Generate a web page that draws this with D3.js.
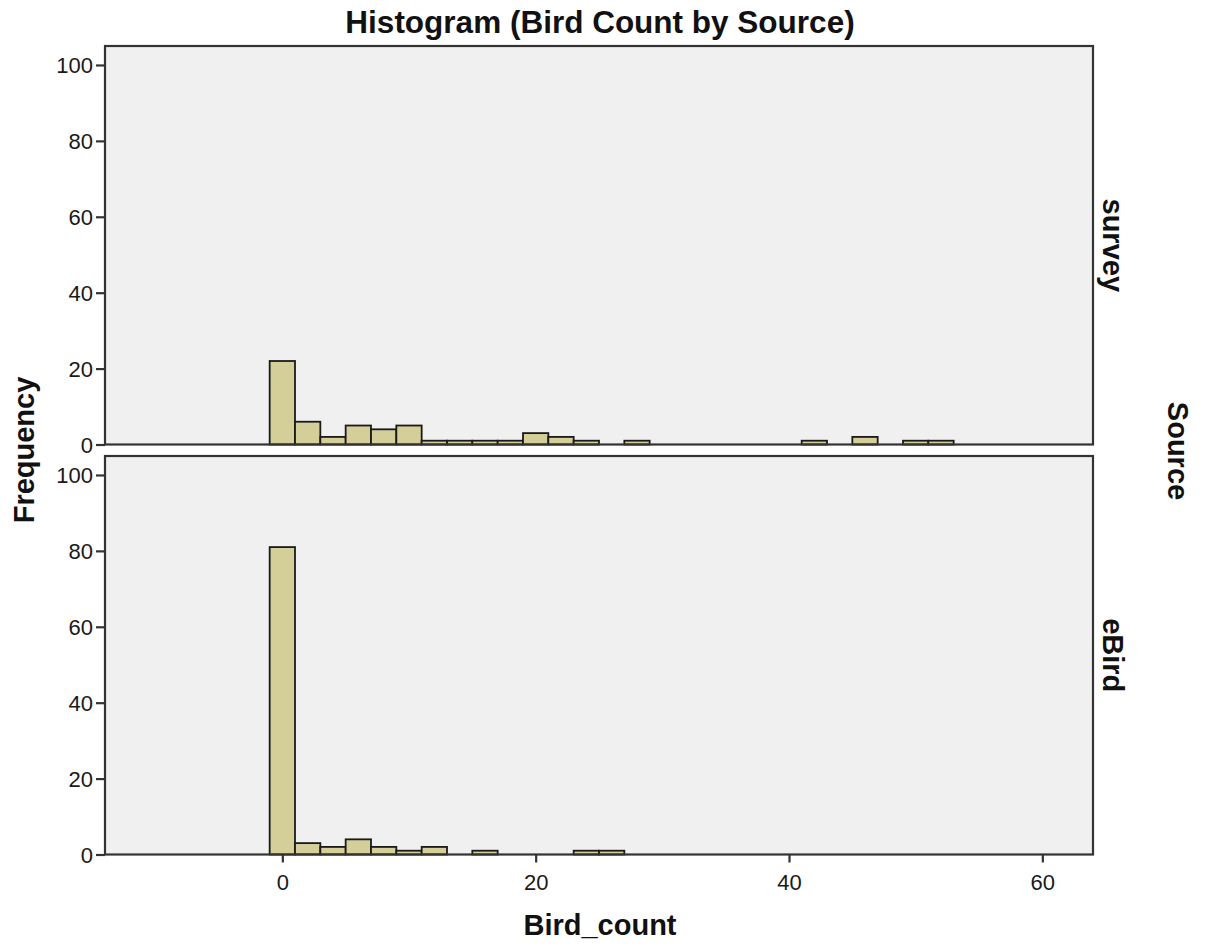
<!DOCTYPE html>
<html>
<head>
<meta charset="utf-8">
<script src="https://cdn.jsdelivr.net/npm/d3@7"></script>
<style>
  body { margin: 0; background: #fff; }
  svg { display: block; font-family: "Liberation Sans", Arial, sans-serif; }
</style>
</head>
<body>
<svg id="chart" width="1209" height="950"></svg>
<script>
// Bin centers (bin width 2)
const binWidth = 2;
const surveyBins = [0, 2, 4, 6, 8, 10, 12, 14, 16, 18, 20, 22, 24, 26, 28, 30, 32, 34, 36, 38, 40, 42, 44, 46, 48, 50, 52];
const surveyCounts = [22, 6, 2, 5, 4, 5, 1, 1, 1, 1, 3, 2, 1, 0, 1, 0, 0, 0, 0, 0, 0, 1, 0, 2, 0, 1, 1];
const eBirdBins = [0, 2, 4, 6, 8, 10, 12, 14, 16, 18, 20, 22, 24, 26];
const eBirdCounts = [81, 3, 2, 4, 2, 1, 2, 0, 1, 0, 0, 0, 1, 1];
const panelNames = ["survey", "eBird"];
const xTicks = [0, 20, 40, 60];
const yTicks = [0, 20, 40, 60, 80, 100];

const panels = [
  { name: panelNames[0], bins: surveyBins, counts: surveyCounts },
  { name: panelNames[1], bins: eBirdBins, counts: eBirdCounts }
];

const svg = d3.select("#chart");
const left = 105, right = 1093;
const panelTops = [46, 456];
const panelH = 398.5;

const x = d3.scaleLinear().domain([-14, 64]).range([left, right]);

const fill = "#d4cf98";
const bg = "#f0f0f0";
const frame = "#333";
const font = "'Liberation Sans', Arial, sans-serif";

svg.append("text")
  .attr("x", 600).attr("y", 33)
  .attr("text-anchor", "middle")
  .attr("font-size", 31.5).attr("font-weight", "bold")
  .attr("fill", "#111")
  .text("Histogram (Bird Count by Source)");

panels.forEach((p, i) => {
  const top = panelTops[i];
  const y = d3.scaleLinear().domain([0, 105]).range([top + panelH, top]);
  const g = svg.append("g");

  g.append("rect")
    .attr("x", left).attr("y", top)
    .attr("width", right - left).attr("height", panelH)
    .attr("fill", bg);

  const data = p.bins.map((b, j) => ({ c: b, n: p.counts[j] })).filter(d => d.n > 0);
  g.selectAll("rect.bar").data(data).enter().append("rect")
    .attr("class", "bar")
    .attr("x", d => x(d.c - binWidth / 2))
    .attr("width", d => x(d.c + binWidth / 2) - x(d.c - binWidth / 2))
    .attr("y", d => y(d.n))
    .attr("height", d => y(0) - y(d.n))
    .attr("fill", fill)
    .attr("stroke", "#1a1a1a")
    .attr("stroke-width", 1.8);

  g.append("rect")
    .attr("x", left).attr("y", top)
    .attr("width", right - left).attr("height", panelH)
    .attr("fill", "none")
    .attr("stroke", frame).attr("stroke-width", 2.2);

  const yAxis = d3.axisLeft(y).tickValues(yTicks).tickSize(9).tickPadding(3);
  const ya = g.append("g").attr("transform", `translate(${left},0)`).call(yAxis);
  ya.select(".domain").remove();
  ya.selectAll(".tick line").attr("stroke", frame).attr("stroke-width", 2.2);
  ya.selectAll(".tick text").attr("font-size", 22).attr("fill", "#1a1a1a")
    .attr("font-family", font).attr("dy", "0.36em");

  if (i === panels.length - 1) {
    const xAxis = d3.axisBottom(x).tickValues(xTicks).tickSize(8).tickPadding(12);
    const xa = g.append("g").attr("transform", `translate(0,${top + panelH})`).call(xAxis);
    xa.select(".domain").remove();
    xa.selectAll(".tick line").attr("stroke", frame).attr("stroke-width", 2.2);
    xa.selectAll(".tick text").attr("font-size", 22).attr("fill", "#1a1a1a")
      .attr("font-family", font);
  }

  svg.append("text")
    .attr("transform", `translate(1103,${top + panelH / 2}) rotate(90)`)
    .attr("text-anchor", "middle")
    .attr("font-size", 29).attr("font-weight", "bold").attr("fill", "#111")
    .text(p.name);
});

svg.append("text")
  .attr("transform", `translate(1168,451) rotate(90)`)
  .attr("text-anchor", "middle")
  .attr("font-size", 29).attr("font-weight", "bold").attr("fill", "#111")
  .text("Source");

svg.append("text")
  .attr("transform", `translate(34,450) rotate(-90)`)
  .attr("text-anchor", "middle")
  .attr("font-size", 29).attr("font-weight", "bold").attr("fill", "#111")
  .text("Frequency");

svg.append("text")
  .attr("x", 600).attr("y", 935)
  .attr("text-anchor", "middle")
  .attr("font-size", 29).attr("font-weight", "bold").attr("fill", "#111")
  .text("Bird_count");
</script>
</body>
</html>
